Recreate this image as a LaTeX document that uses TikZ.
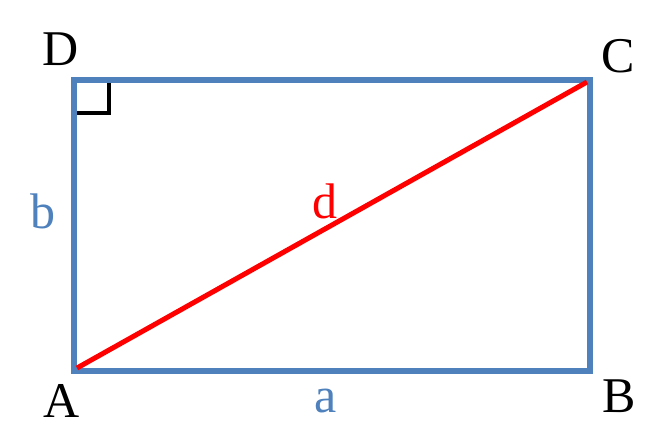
\documentclass[tikz,border=0pt]{standalone}
\usepackage{fontspec}
\setmainfont{Liberation Serif}
\definecolor{sideblue}{RGB}{79,129,189}
\definecolor{diagred}{RGB}{255,0,0}
\begin{document}
\begin{tikzpicture}[x=1pt,y=-1pt,
  side/.style={draw=sideblue,line width=6pt,line join=miter},
  diag/.style={draw=diagred,line width=5pt},
  rightmark/.style={draw=black,line width=4pt},
  lbl/.style={anchor=base,inner sep=0pt,font=\fontsize{50}{50}\selectfont},
  sidelbl/.style={lbl,text=sideblue},
  diaglbl/.style={lbl,text=diagred}]
\useasboundingbox (0,0) rectangle (667,437);
\coordinate (A) at (74,371);
\coordinate (B) at (590,371);
\coordinate (C) at (590,80);
\coordinate (D) at (74,80);
\coordinate (Ai) at (77,368);
\coordinate (Ci) at (587,82);
\coordinate (m1) at (74,113);
\coordinate (m2) at (109,113);
\coordinate (m3) at (109,80);
\draw[rightmark] (m1) -- (m2) -- (m3);
\draw[side] (A) -- (B) -- (C) -- (D) -- cycle;
\draw[diag] (Ai) -- (Ci);
\node[lbl] (lA) at (62,417) {A};
\node[lbl] (lB) at (619,412.5) {B};
\node[lbl] (lC) at (618,72) {C};
\node[lbl] (lD) at (61,65) {D};
\node[sidelbl] (la) at (325.5,412) {a};
\node[sidelbl] (lb) at (43,228) {b};
\node[diaglbl] (ld) at (325,218) {d};
\end{tikzpicture}
\end{document}
